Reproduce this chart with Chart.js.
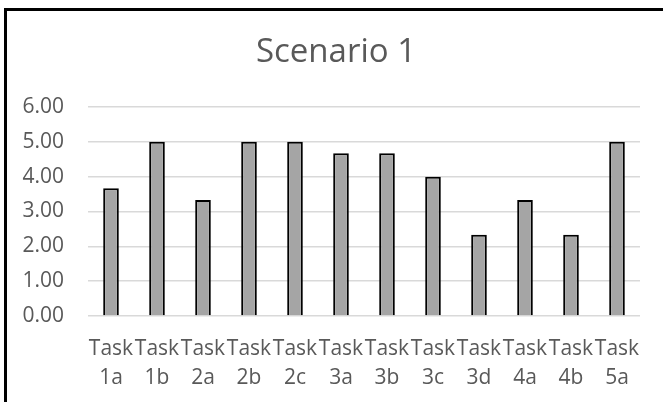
<!DOCTYPE html>
<html>
<head>
<meta charset="utf-8">
<script src="https://cdn.jsdelivr.net/npm/chart.js@4"></script>
<style>
  html, body { margin: 0; padding: 0; width: 663px; height: 402px; overflow: hidden; background: #fff; }
  #frame { position: absolute; left: 4px; top: 8px; width: 658px; height: 400px; border: 3px solid #000; }
</style>
</head>
<body>
<div id="frame"><canvas id="chart" width="658" height="400"></canvas></div>
<script>
// Scenario 1 scores per task
const tasks = [["Task", "1a"], ["Task", "1b"], ["Task", "2a"], ["Task", "2b"], ["Task", "2c"], ["Task", "3a"],
               ["Task", "3b"], ["Task", "3c"], ["Task", "3d"], ["Task", "4a"], ["Task", "4b"], ["Task", "5a"]];
const scores = [3.67, 5.00, 3.33, 5.00, 5.00, 4.67, 4.67, 4.00, 2.33, 3.33, 2.33, 5.00];
const chartTitle = "Scenario 1";

const textColor = "#595959";
const fontFamily = "'Open Sans', sans-serif";

const ctx = document.getElementById("chart").getContext("2d");
new Chart(ctx, {
  type: "bar",
  data: {
    labels: tasks,
    datasets: [{
      data: scores,
      backgroundColor: "#a5a5a5",
      borderColor: "#000",
      borderWidth: 2,
      barPercentage: 0.34,
      categoryPercentage: 1
    }]
  },
  options: {
    responsive: false,
    animation: false,
    plugins: {
      legend: { display: false },
      tooltip: { enabled: false },
      title: {
        display: true,
        text: chartTitle,
        color: textColor,
        font: { family: fontFamily, size: 33, weight: "normal", lineHeight: 1.2 },
        padding: { top: 22, bottom: 34.4 }
      }
    },
    scales: {
      x: {
        grid: { display: false },
        border: { display: false },
        ticks: {
          color: textColor,
          font: { family: fontFamily, size: 21, lineHeight: 1.4 },
          padding: 10,
          maxRotation: 0,
          autoSkip: false
        },
        afterFit: (axis) => { axis.height = 95; }
      },
      y: {
        min: 0,
        max: 6,
        border: { display: false },
        grid: { color: "#d9d9d9", lineWidth: 1.5, drawTicks: false },
        ticks: {
          stepSize: 1,
          color: textColor,
          font: { family: fontFamily, size: 21 },
          padding: 24,
          callback: (v) => Number(v).toFixed(2)
        },
        afterFit: (axis) => { axis.width = 81; }
      },
      // empty right-hand margin so the title stays centred on the frame
      yRight: {
        position: "right",
        grid: { display: false },
        border: { display: false },
        ticks: { display: false },
        afterFit: (axis) => { axis.width = 25; }
      }
    }
  }
});
</script>
</body>
</html>
